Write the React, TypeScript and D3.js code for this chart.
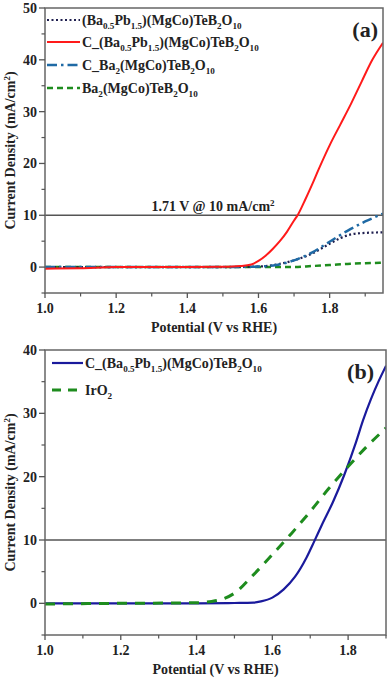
import React from 'react';
import * as d3 from 'd3';

// ---- data ----
// panel (a)
const redX = [1.0, 1.1, 1.2, 1.4, 1.5, 1.55, 1.58, 1.6, 1.62, 1.64, 1.66, 1.68, 1.7, 1.71, 1.73, 1.75, 1.77, 1.8, 1.83, 1.86, 1.89, 1.92, 1.95];
const redY = [-0.3, -0.2, 0, 0, 0.05, 0.2, 0.5, 1.2, 2.2, 3.5, 5.0, 6.8, 9.0, 10.0, 12.8, 15.8, 19.0, 23.5, 27.5, 31.5, 35.8, 40.0, 43.3];

const blueX = [1.0, 1.2, 1.4, 1.5, 1.6, 1.65, 1.7, 1.75, 1.8, 1.85, 1.9, 1.95];
const blueY = [0, 0, 0, 0, 0.1, 0.4, 1.3, 2.8, 4.9, 7.0, 8.8, 10.3];

const dotX = [1.0, 1.2, 1.4, 1.5, 1.6, 1.65, 1.7, 1.75, 1.8, 1.83, 1.86, 1.9, 1.95];
const dotY = [0, 0, 0, 0, 0.1, 0.5, 1.3, 2.6, 4.5, 5.6, 6.3, 6.6, 6.7];

const greenAX = [1.0, 1.2, 1.4, 1.6, 1.7, 1.75, 1.8, 1.85, 1.9, 1.95];
const greenAY = [0, 0, 0, 0, 0, 0.2, 0.4, 0.6, 0.75, 0.85];

// panel (b)
const navyX = [1.0, 1.2, 1.4, 1.5, 1.55, 1.57, 1.6, 1.63, 1.66, 1.69, 1.71, 1.73, 1.76, 1.79, 1.82, 1.84, 1.86, 1.88, 1.9];
const navyY = [0, 0, 0, 0.05, 0.1, 0.3, 0.9, 2.2, 4.2, 7.2, 9.7, 12.3, 16.0, 20.3, 25.3, 29.0, 32.2, 35.0, 37.5];

const irX = [1.0, 1.2, 1.4, 1.44, 1.47, 1.5, 1.55, 1.6, 1.65, 1.7, 1.75, 1.8, 1.85, 1.9];
const irY = [-0.1, 0, 0.1, 0.3, 0.7, 1.6, 4.5, 7.7, 11.0, 14.5, 18.2, 21.6, 24.8, 27.7];

const xTicksA = [1.0, 1.2, 1.4, 1.6, 1.8];
const xMinorA = [1.1, 1.3, 1.5, 1.7, 1.9];
const yTicksA = [0, 10, 20, 30, 40, 50];
const yMinorA = [-5, 5, 15, 25, 35, 45];
const xTicksB = [1.0, 1.2, 1.4, 1.6, 1.8];
const xMinorB = [1.1, 1.3, 1.5, 1.7, 1.9];
const yTicksB = [0, 10, 20, 30, 40];
const yMinorB = [-5, 5, 15, 25, 35];

const FONT = '"Liberation Serif", "Times New Roman", serif';
const INK = '#222';

const zip = (xs: number[], ys: number[]) => xs.map((x, i) => [x, ys[i]] as [number, number]);

// chemical formula with subscripts, e.g. parts: [['(Ba',''],['0.5','sub'],...]
const Formula = ({ parts, x, y, size }: { parts: [string, string][]; x: number; y: number; size: number }) => {
  return (
    <text x={x} y={y} fontFamily={FONT} fontWeight="bold" fontSize={size} fill={INK}>
      {parts.map(([t, k], i) => {
        const prev = i > 0 ? parts[i - 1][1] : '';
        let dy = 0;
        if (k === 'sub' && prev !== 'sub') dy = size * 0.3;
        if (k !== 'sub' && prev === 'sub') dy = -size * 0.3;
        return (
          <tspan key={i} dy={dy} fontSize={k === 'sub' ? size * 0.65 : size}>{t}</tspan>
        );
      })}
    </text>
  );
};

const BaPb: [string, string][] = [['(Ba', ''], ['0.5', 'sub'], ['Pb', ''], ['1.5', 'sub'], [')(MgCo)TeB', ''], ['2', 'sub'], ['O', ''], ['10', 'sub']];
const CBaPb: [string, string][] = [['C_(Ba', ''], ['0.5', 'sub'], ['Pb', ''], ['1.5', 'sub'], [')(MgCo)TeB', ''], ['2', 'sub'], ['O', ''], ['10', 'sub']];
const CBa2: [string, string][] = [['C_Ba', ''], ['2', 'sub'], ['(MgCo)TeB', ''], ['2', 'sub'], ['O', ''], ['10', 'sub']];
const Ba2: [string, string][] = [['Ba', ''], ['2', 'sub'], ['(MgCo)TeB', ''], ['2', 'sub'], ['O', ''], ['10', 'sub']];
const IrO2: [string, string][] = [['IrO', ''], ['2', 'sub']];

type Series = { pts: [number, number][]; color: string; width: number; dash?: string; cap?: 'round' | 'butt' };

const Panel = ({ id, left, right, top, bottom, xDomain, yDomain, xTicks, xMinor, yTicks, yMinor, series }: {
  id: string; left: number; right: number; top: number; bottom: number;
  xDomain: [number, number]; yDomain: [number, number];
  xTicks: number[]; xMinor: number[]; yTicks: number[]; yMinor: number[];
  series: Series[];
}) => {
  const x = d3.scaleLinear().domain(xDomain).range([left, right]);
  const y = d3.scaleLinear().domain(yDomain).range([bottom, top]);
  const line = d3.line<[number, number]>().x(d => x(d[0])).y(d => y(d[1])).curve(d3.curveMonotoneX);
  const midY = (top + bottom) / 2;
  return (
    <g>
      <defs>
        <clipPath id={`clip-${id}`}>
          <rect x={left} y={top} width={right - left} height={bottom - top} />
        </clipPath>
      </defs>
      {/* 10 mA/cm2 reference line */}
      <line x1={left} x2={right} y1={y(10)} y2={y(10)} stroke="#555" strokeWidth={1.3} />
      <g clipPath={`url(#clip-${id})`}>
        {series.map((s, i) => (
          <path key={i} d={line(s.pts) || ''} fill="none" stroke={s.color} strokeWidth={s.width}
            strokeDasharray={s.dash} strokeLinecap={s.cap || 'butt'} />
        ))}
      </g>
      <rect x={left} y={top} width={right - left} height={bottom - top} fill="none" stroke="#666" strokeWidth={1.5} />
      {yTicks.map(t => (
        <g key={t}>
          <line x1={left - 6} x2={left} y1={y(t)} y2={y(t)} stroke="#555" strokeWidth={1.3} />
          <text x={left - 8} y={y(t) + 5} textAnchor="end" fontFamily={FONT} fontWeight="bold" fontSize={14} fill={INK}>{t}</text>
        </g>
      ))}
      {yMinor.map(t => (
        <line key={t} x1={left - 3.5} x2={left} y1={y(t)} y2={y(t)} stroke="#555" strokeWidth={1.2} />
      ))}
      {xTicks.map(t => (
        <g key={t}>
          <line x1={x(t)} x2={x(t)} y1={bottom} y2={bottom + 5} stroke="#555" strokeWidth={1.3} />
          <text x={x(t)} y={bottom + 20} textAnchor="middle" fontFamily={FONT} fontWeight="bold" fontSize={14} fill={INK}>{t.toFixed(1)}</text>
        </g>
      ))}
      {xMinor.filter(t => x(t) <= right).map(t => (
        <line key={t} x1={x(t)} x2={x(t)} y1={bottom} y2={bottom + 3.5} stroke="#555" strokeWidth={1.2} />
      ))}
      <text x={(left + right) / 2} y={bottom + 39} textAnchor="middle" fontFamily={FONT} fontWeight="bold" fontSize={14} fill={INK}>Potential (V vs RHE)</text>
      <text transform={`translate(15,${midY}) rotate(-90)`} textAnchor="middle" fontFamily={FONT} fontWeight="bold" fontSize={14} fill={INK}>
        Current Density (mA/cm<tspan dy={-5} fontSize={9}>2</tspan><tspan dy={5}>)</tspan>
      </text>
    </g>
  );
};

export default function App() {
  const seriesA: Series[] = [
    { pts: zip(greenAX, greenAY), color: '#1e8c1e', width: 2.5, dash: '6 4' },
    { pts: zip(dotX, dotY), color: '#202050', width: 2.2, dash: '2 2.5' },
    { pts: zip(blueX, blueY), color: '#1f6aa5', width: 2.5, dash: '10 4 2.5 4' },
    { pts: zip(redX, redY), color: '#ff1a1a', width: 2 },
  ];
  const seriesB: Series[] = [
    { pts: zip(navyX, navyY), color: '#1a1a9c', width: 2.2 },
    { pts: zip(irX, irY), color: '#1e8c1e', width: 3, dash: '10 8' },
  ];
  return (
    <svg width={392} height={681} style={{ position: 'absolute', left: 0, top: 0, background: '#fff' }}>
      <Panel id="a" left={45} right={383} top={8} bottom={293} xDomain={[1.0, 1.95]} yDomain={[-5, 50]}
        xTicks={xTicksA} xMinor={xMinorA} yTicks={yTicksA} yMinor={yMinorA} series={seriesA} />
      <Panel id="b" left={45} right={386} top={350} bottom={635} xDomain={[1.0, 1.9]} yDomain={[-5, 40]}
        xTicks={xTicksB} xMinor={xMinorB} yTicks={yTicksB} yMinor={yMinorB} series={seriesB} />

      {/* legend (a) */}
      <line x1={47} x2={80} y1={20} y2={20} stroke="#202050" strokeWidth={2.2} strokeDasharray="2 2.5" />
      <Formula parts={BaPb} x={82} y={25} size={14} />
      <line x1={47} x2={80} y1={42} y2={42} stroke="#ff1a1a" strokeWidth={2.2} />
      <Formula parts={CBaPb} x={82} y={47} size={14} />
      <line x1={47} x2={80} y1={65} y2={65} stroke="#1f6aa5" strokeWidth={2.5} strokeDasharray="10 4 2.5 4" />
      <Formula parts={CBa2} x={82} y={70} size={14} />
      <line x1={47} x2={80} y1={88} y2={88} stroke="#1e8c1e" strokeWidth={2.5} strokeDasharray="6 4" />
      <Formula parts={Ba2} x={82} y={93} size={14} />
      <text x={378} y={37} textAnchor="end" fontFamily={FONT} fontWeight="bold" fontSize={22} fill={INK}>(a)</text>
      <text x={213} y={211} textAnchor="middle" fontFamily={FONT} fontWeight="bold" fontSize={14} fill={INK}>
        1.71 V @ 10 mA/cm<tspan dy={-5} fontSize={9}>2</tspan>
      </text>

      {/* legend (b) */}
      <line x1={52} x2={83} y1={363} y2={363} stroke="#1a1a9c" strokeWidth={2.2} />
      <Formula parts={CBaPb} x={85} y={368} size={14} />
      <line x1={52} x2={83} y1={390} y2={390} stroke="#1e8c1e" strokeWidth={3} strokeDasharray="9 7" />
      <Formula parts={IrO2} x={85} y={395} size={14} />
      <text x={374} y={379} textAnchor="end" fontFamily={FONT} fontWeight="bold" fontSize={22} fill={INK}>(b)</text>
    </svg>
  );
}
